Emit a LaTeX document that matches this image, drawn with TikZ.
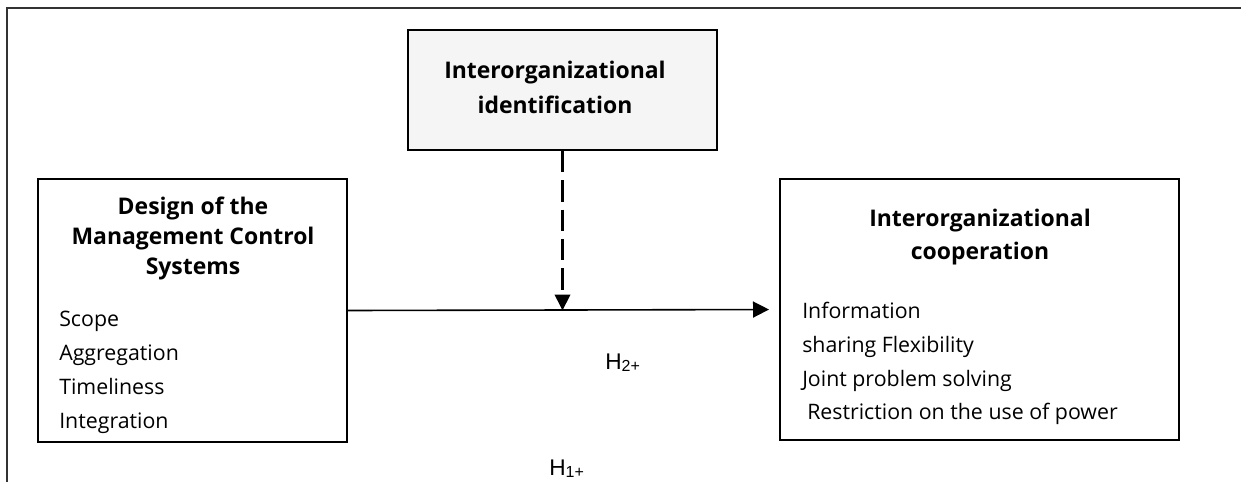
\documentclass[tikz,border=0pt]{standalone}
\usepackage{fontspec}
\setmainfont{Open Sans}
\newfontfamily\hypfont{Liberation Sans}
\usetikzlibrary{positioning,arrows.meta}

\begin{document}
\begin{tikzpicture}[x=0.75pt, y=-0.75pt,
    framebox/.style={draw, line width=1.5pt, rectangle, inner sep=0pt},
    title/.style={font=\bfseries\fontsize{17.2}{#1}\selectfont, align=center, inner sep=0pt},
    item/.style={font=\fontsize{16}{20}\selectfont, anchor=base west, inner sep=0pt},
    hyp/.style={font=\hypfont\fontsize{17}{20}\selectfont, anchor=base west, inner sep=0pt}]
  \useasboundingbox (0,0) rectangle (1241,482);
  % Frame
  \draw[line width=0.8pt, black!80] (7,482) -- (7,8) -- (1241,8);
  % Boxes
  \node[framebox, fill=gray!8, minimum width=231.75pt, minimum height=90pt] (ident) at (562.5,90) {};
  \node[framebox, minimum width=231.75pt, minimum height=197.25pt] (design) at (192.5,310.5) {};
  \node[framebox, minimum width=299.25pt, minimum height=195.75pt] (coop) at (979.5,309.5) {};
  % Titles
  \node[title=26.25] (identtitle) at (555,87) {Interorganizational\\identification};
  \node[title=22.5] (designtitle) at (193,238) {Design of the\\Management Control\\Systems};
  \node[title=24.75] (cooptitle) at (980,237) {Interorganizational\\cooperation};
  % Items
  \node[item] (scope) at (59,326) {Scope};
  \node[item] (aggregation) at (59,360) {Aggregation};
  \node[item] (timeliness) at (59,394) {Timeliness};
  \node[item] (integration) at (59,428) {Integration};
  \node[item] (information) at (802,318) {Information};
  \node[item] (sharing) at (802,352) {sharing Flexibility};
  \node[item] (joint) at (802,386) {Joint problem solving};
  \node[item] (power) at (807,419) {Restriction on the use of power};
  % Arrows
  \coordinate (meet) at (ident.south |- design.east);
  \draw[-{Triangle[length=12pt, width=12pt]}, line width=1.2pt, shorten >=7.5pt] (design.east) -- (coop.west);
  \draw[-{Triangle[length=12pt, width=11.5pt]}, line width=2pt, dash pattern=on 16pt off 6pt] (ident.south) -- (meet);
  % Hypotheses
  \node[hyp] (htwo) at (605,369) {H{\fontsize{12}{14}\selectfont\raisebox{-0.15em}{2+}}};
  \node[hyp] (hone) at (549,475) {H{\fontsize{12}{14}\selectfont\raisebox{-0.15em}{1+}}};
\end{tikzpicture}
\end{document}
